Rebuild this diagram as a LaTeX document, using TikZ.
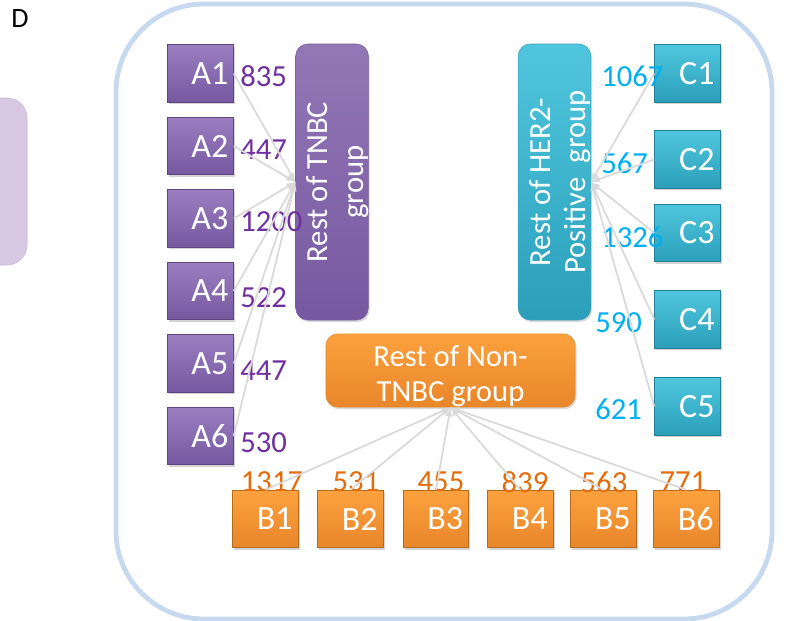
\documentclass[tikz,border=0pt]{standalone}
\usepackage{fontspec}
\setmainfont{Carlito}
\usepackage{tikz}
\usepackage{xcolor}
\usetikzlibrary{shadows}

\definecolor{frameblue}{HTML}{C6D9EE}
\definecolor{linkgray}{HTML}{D9D9D9}
\definecolor{tnbctop}{HTML}{9A7EC0}
\definecolor{tnbcbot}{HTML}{7658A0}
\definecolor{tnbcedge}{HTML}{5E4682}
\definecolor{tnbcnum}{HTML}{7030A0}
\definecolor{hertop}{HTML}{4FC6DE}
\definecolor{herbot}{HTML}{2B9FBA}
\definecolor{heredge}{HTML}{237F96}
\definecolor{hernum}{HTML}{00B0F0}
\definecolor{nontop}{HTML}{FCA13E}
\definecolor{nonbot}{HTML}{E8862A}
\definecolor{nonedge}{HTML}{B66A1E}
\definecolor{nonnum}{HTML}{E46C0A}
\definecolor{sidelilac}{HTML}{D8C8E4}

\newcommand{\bigfont}{\fontsize{23}{26.5}\selectfont}
\newcommand{\boxfont}{\fontsize{25.5}{28}\selectfont}
\newcommand{\samplelabel}[1]{\hspace{14pt}\raisebox{-3.8pt}{#1}}
\newcommand{\grouptop}{\rule{0pt}{24pt}}

\begin{document}
\begin{tikzpicture}[x=0.75pt, y=-0.75pt, >=latex,
    sample/.style={draw, line width=0.8pt, minimum width=49pt, minimum height=43pt,
        inner sep=0pt, text=white, font=\boxfont,
        drop shadow={opacity=0.35, shadow xshift=1pt, shadow yshift=-1.5pt}},
    abox/.style={sample, draw=tnbcedge, top color=tnbctop, bottom color=tnbcbot},
    bbox/.style={sample, draw=nonedge, top color=nontop, bottom color=nonbot},
    cbox/.style={sample, draw=heredge, top color=hertop, bottom color=herbot},
    group/.style={rounded corners=9pt, inner sep=0pt, text=white, align=center,
        font=\bigfont, drop shadow={opacity=0.3, shadow xshift=1pt, shadow yshift=-1.5pt}},
    anum/.style={text=tnbcnum, font=\bigfont, inner sep=0pt},
    bnum/.style={text=nonnum, font=\bigfont, inner sep=0pt},
    cnum/.style={text=hernum, font=\bigfont, inner sep=0pt},
    link/.style={->, draw=linkgray, line width=1.3pt}]
    \useasboundingbox (0,0) rectangle (794,621);

    % panel letter and cut-off neighbour
    \node[font=\fontsize{21}{24}\selectfont] (panel) at (20,19) {D};
    \draw[fill=sidelilac, draw=sidelilac!85!black!60!sidelilac, rounded corners=15pt]
        (-40,98) rectangle (27,265);

    % frame
    \draw[frameblue, line width=3.6pt, rounded corners=66pt] (116,4) rectangle (772,619);

    % groups
    \node[group, rotate=90, minimum width=207pt, minimum height=51pt,
        top color=tnbctop!95!black, bottom color=tnbcbot, draw=tnbcedge!60!tnbctop]
        (tnbc) at (332,182) {\grouptop Rest of TNBC\\group};
    \node[group, rotate=90, minimum width=207pt, minimum height=50pt,
        top color=hertop, bottom color=herbot, draw=heredge!50!hertop]
        (her) at (554.5,182) {\grouptop Rest of HER2-\\Positive~~group};
    \node[group, minimum width=187pt, minimum height=55pt,
        top color=nontop, bottom color=nonbot, draw=nonedge!40!nontop]
        (non) at (450.5,370.5) {\grouptop Rest of Non-\\TNBC group};

    % TNBC samples
    \node[abox] (a1) at (200.5,73.5) {\samplelabel{A1}};
    \node[abox] (a2) at (200.5,146) {\samplelabel{A2}};
    \node[abox] (a3) at (200.5,218.5) {\samplelabel{A3}};
    \node[abox] (a4) at (200.5,291) {\samplelabel{A4}};
    \node[abox] (a5) at (200.5,363.5) {\samplelabel{A5}};
    \node[abox] (a6) at (200.5,436) {\samplelabel{A6}};
    \node[anum, anchor=west] (na1) at (240,76) {835};
    \node[anum, anchor=west] (na2) at (240,150) {447};
    \node[anum, anchor=west] (na3) at (240,222) {1200};
    \node[anum, anchor=west] (na4) at (240,298) {522};
    \node[anum, anchor=west] (na5) at (240,371) {447};
    \node[anum, anchor=west] (na6) at (240,443) {530};

    % non-TNBC samples
    \node[bbox] (b1) at (265.5,519) {\samplelabel{B1}};
    \node[bbox] (b2) at (350.5,519) {\samplelabel{B2}};
    \node[bbox] (b3) at (436,519) {\samplelabel{B3}};
    \node[bbox] (b4) at (520.5,519) {\samplelabel{B4}};
    \node[bbox] (b5) at (603.5,519) {\samplelabel{B5}};
    \node[bbox] (b6) at (686.5,519) {\samplelabel{B6}};
    \node[bnum] (nb1) at (272,482) {1317};
    \node[bnum] (nb2) at (356,482) {531};
    \node[bnum] (nb3) at (441,482) {455};
    \node[bnum] (nb4) at (525,482) {839};
    \node[bnum] (nb5) at (604,482) {563};
    \node[bnum] (nb6) at (683,482) {771};

    % HER2 samples
    \node[cbox] (c1) at (687.5,73.5) {\samplelabel{C1}};
    \node[cbox] (c2) at (687.5,159.5) {\samplelabel{C2}};
    \node[cbox] (c3) at (687.5,233) {\samplelabel{C3}};
    \node[cbox] (c4) at (687.5,319.5) {\samplelabel{C4}};
    \node[cbox] (c5) at (687.5,406.5) {\samplelabel{C5}};
    \node[cnum, anchor=west] (nc1) at (601,76) {1067};
    \node[cnum, anchor=west] (nc2) at (601,163) {567};
    \node[cnum, anchor=west] (nc3) at (601,237) {1326};
    \node[cnum, anchor=west] (nc4) at (595,323) {590};
    \node[cnum, anchor=west] (nc5) at (595,409) {621};

    % links into the groups
    \draw[link] (a1.east) -- (tnbc.north);
    \draw[link] (a2.east) -- (tnbc.north);
    \draw[link] (a3.east) -- (tnbc.north);
    \draw[link] (a4.east) -- (tnbc.north);
    \draw[link] (a5.east) -- (tnbc.north);
    \draw[link] (a6.east) -- (tnbc.north);
    \draw[link] (b1.north) -- (non.south);
    \draw[link] (b2.north) -- (non.south);
    \draw[link] (b3.north) -- (non.south);
    \draw[link] (b4.north) -- (non.south);
    \draw[link] (b5.north) -- (non.south);
    \draw[link] (b6.north) -- (non.south);
    \draw[link] (c1.west) -- (her.south);
    \draw[link] (c2.west) -- (her.south);
    \draw[link] (c3.west) -- (her.south);
    \draw[link] (c4.west) -- (her.south);
    \draw[link] (c5.west) -- (her.south);
\end{tikzpicture}
\end{document}
